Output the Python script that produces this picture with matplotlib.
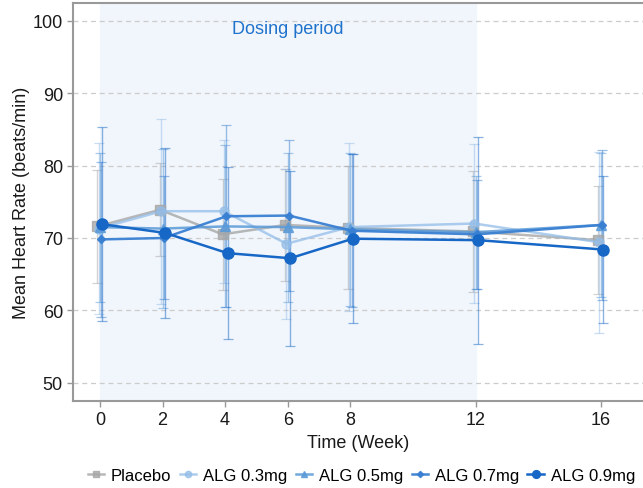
import numpy as np
import matplotlib
matplotlib.use("Agg")
import matplotlib.pyplot as plt

plt.rcParams['font.family'] = ['Liberation Sans', 'DejaVu Sans']

weeks = [0, 2, 4, 6, 8, 12, 16]
groups = ['Placebo', 'ALG 0.3mg', 'ALG 0.5mg', 'ALG 0.7mg', 'ALG 0.9mg']

placebo_mean = [71.6, 73.9, 70.5, 71.8, 71.4, 70.9, 69.7]
placebo_sd = [7.8, 6.4, 7.7, 7.8, 8.5, 8.4, 7.5]
alg03_mean = [71.3, 73.7, 73.7, 69.2, 71.5, 72.0, 69.4]
alg03_sd = [11.8, 12.8, 9.9, 10.4, 11.6, 11.0, 12.5]
alg05_mean = [71.5, 71.3, 71.6, 71.5, 71.2, 70.8, 71.8]
alg05_sd = [10.3, 11.0, 11.2, 10.3, 10.6, 7.8, 10.0]
alg07_mean = [69.8, 70.0, 73.0, 73.1, 71.0, 70.5, 71.8]
alg07_sd = [10.7, 8.5, 12.6, 10.5, 10.6, 7.5, 10.4]
alg09_mean = [71.9, 70.7, 67.9, 67.2, 69.9, 69.7, 68.4]
alg09_sd = [13.4, 11.7, 11.9, 12.1, 11.7, 14.3, 10.2]

means = [placebo_mean, alg03_mean, alg05_mean, alg07_mean, alg09_mean]
sds = [placebo_sd, alg03_sd, alg05_sd, alg07_sd, alg09_sd]

colors = ['#a6a6a6', '#93bde8', '#5a9ad8', '#3a80d2', '#1767c6']
markers = ['s', 'o', '^', 'D', 'o']
msizes = [7, 6.5, 6.5, 4.5, 8]
line_alpha = [0.8, 0.75, 0.85, 0.95, 1.0]
offsets = [-0.08, -0.04, 0.0, 0.04, 0.08]

fig = plt.figure(figsize=(6.43, 4.89), dpi=100)
ax = fig.add_axes([0.114, 0.1785, 0.886, 0.8135])

ax.axvspan(0, 12, color='#f1f6fc', zorder=0)
for yv in range(50, 101, 10):
    ax.axhline(yv, color='#cccccc', lw=0.9, ls=(0, (4, 3)), zorder=1)

for i in range(len(groups)):
    x = np.array(weeks) + offsets[i]
    ax.errorbar(x, means[i], yerr=sds[i], fmt='none', ecolor=colors[i],
                elinewidth=1.0, capsize=3.5, capthick=0.9, alpha=0.5, zorder=2)
    ax.plot(x, means[i], color=colors[i], marker=markers[i], ms=msizes[i],
            lw=1.8, alpha=line_alpha[i], label=groups[i], zorder=3 + i)

ax.text(6, 99, 'Dosing period', color='#1f72cc', fontsize=13,
        ha='center', va='center', zorder=10)

ax.set_xlim(-0.85, 17.35)
ax.set_ylim(47.5, 102.5)
ax.set_xticks(weeks)
ax.set_yticks(range(50, 101, 10))

for s in ['left', 'bottom', 'top']:
    ax.spines[s].set_color('#999999')
    ax.spines[s].set_linewidth(1.5)
ax.spines['right'].set_visible(False)
ax.tick_params(axis='both', colors='#999999', length=4, width=1,
               labelsize=13, labelcolor='#1a1a1a')

ax.set_xlabel('Time (Week)', fontsize=13, color='#1a1a1a', labelpad=4)
ax.set_ylabel('Mean Heart Rate (beats/min)', fontsize=13, color='#1a1a1a', labelpad=2)

fig.legend(loc='lower center', bbox_to_anchor=(0.562, -0.02), ncol=5,
           frameon=False, fontsize=12, handlelength=1.0, handletextpad=0.4,
           columnspacing=0.5, markerscale=0.7)

fig.savefig('out.png', dpi=100)
